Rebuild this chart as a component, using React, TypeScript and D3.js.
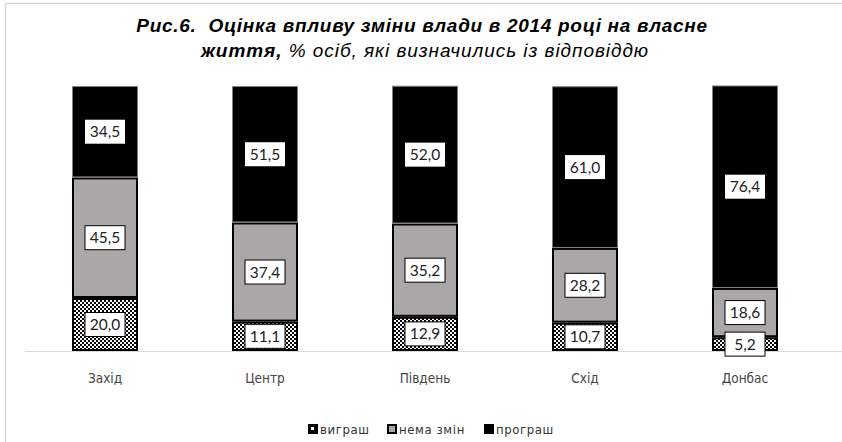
import React from "react";
import * as d3 from "d3";

const categories = ["Захід", "Центр", "Південь", "Схід", "Донбас"];
const win = [20.0, 11.1, 12.9, 10.7, 5.2];
const noChange = [45.5, 37.4, 35.2, 28.2, 18.6];
const lose = [34.5, 51.5, 52.0, 61.0, 76.4];
const seriesNames = ["виграш", "нема змін", "програш"];

const W = 842;
const H = 442;

export default function App() {
  const x = d3.scaleBand<string>().domain(categories).range([25, 825]).paddingInner(0.5875).paddingOuter(0.29375);
  const y = d3.scaleLinear().domain([0, 100]).range([351, 86]);
  const rows = categories.map((c, i) => ({ cat: c, win: win[i], noChange: noChange[i], lose: lose[i] }));
  const stack = d3.stack<any>().keys(["win", "noChange", "lose"]);
  const layers = stack(rows);
  const fmt = (v: number) => v.toFixed(1).replace(".", ",");
  const labelFont = "Lato, 'Liberation Sans', sans-serif";

  return (
    <svg width={W} height={H} style={{ display: "block", position: "absolute", left: 0, top: 0, background: "#fff" }}>
      <defs>
        <pattern id="checker" patternUnits="userSpaceOnUse" width={4} height={4}>
          <rect width={4} height={4} fill="#fff" />
          <rect width={2} height={2} fill="#000" />
          <rect x={2} y={2} width={2} height={2} fill="#000" />
        </pattern>
      </defs>
      <rect x={0} y={0} width={W} height={H} fill="#fff" />
      <line x1={5.5} y1={3.5} x2={W} y2={3.5} stroke="#d9d9d9" strokeWidth={1.5} />
      <line x1={5.5} y1={3.5} x2={5.5} y2={H} stroke="#d9d9d9" strokeWidth={1.5} />

      <text x={422} y={32} textAnchor="middle" fontFamily="Arial, 'Liberation Sans', sans-serif" fontStyle="italic" fontWeight="bold" fontSize={19} letterSpacing={0.7} fill="#000" style={{ whiteSpace: "pre" }}>
        {"Рис.6.  Оцінка впливу зміни влади в 2014 році на власне"}
      </text>
      <text x={425} y={57} textAnchor="middle" fontFamily="Arial, 'Liberation Sans', sans-serif" fontStyle="italic" fontSize={19} letterSpacing={0.95} fill="#000">
        <tspan fontWeight="bold">життя,</tspan> % осіб, які визначились із відповіддю
      </text>

      <line x1={25} x2={842} y1={351.5} y2={351.5} stroke="#d9d9d9" strokeWidth={1} />

      {layers.map((layer, li) =>
        layer.map((d, i) => {
          const cat = categories[i];
          const x0 = x(cat)!;
          const bw = x.bandwidth();
          const yTop = y(d[1]);
          const yBot = y(d[0]);
          if (li === 2) {
            return <rect key={`${li}-${i}`} x={x0 + 0.5} y={yTop + 0.5} width={bw - 1} height={yBot - yTop - 1} fill="#000" stroke="#7f7f7f" strokeWidth={1} />;
          }
          return (
            <rect key={`${li}-${i}`} x={x0 + 1} y={yTop + 1} width={bw - 2} height={yBot - yTop - 2}
              fill={li === 0 ? "url(#checker)" : "#aba7a7"} stroke="#000" strokeWidth={2} />
          );
        })
      )}

      {layers.map((layer, li) =>
        layer.map((d, i) => {
          const cat = categories[i];
          const cx = x(cat)! + x.bandwidth() / 2;
          const cy = (y(d[0]) + y(d[1])) / 2;
          const v = d[1] - d[0];
          const bw = 40;
          const bh = 24;
          return (
            <g key={`l${li}-${i}`}>
              <rect x={cx - bw / 2} y={cy - bh / 2} width={bw} height={bh} fill="#fff" stroke={li === 2 ? "none" : "#000"} strokeWidth={1} />
              <text x={cx} y={cy + 5.5} textAnchor="middle" fontFamily={labelFont} fontSize={15.5} fill="#222">
                {fmt(v)}
              </text>
            </g>
          );
        })
      )}

      {categories.map((c) => (
        <text key={c} x={x(c)! + x.bandwidth() / 2} y={383} textAnchor="middle" fontFamily="'Liberation Sans Narrow', 'DejaVu Sans Condensed', sans-serif" fontSize={13.5} fill="#444">
          {c}
        </text>
      ))}

      {seriesNames.map((s, i) => {
        const xs = [308, 387, 484][i];
        const fills = ["url(#checker)", "#aba7a7", "#000"];
        return (
          <g key={s}>
            <rect x={xs + 1} y={425} width={8} height={8} fill={i === 0 ? "#000" : fills[i]} stroke="#000" strokeWidth={2} />
            {i === 0 && <rect x={xs + 3} y={427} width={3} height={3} fill="#fff" />}
            <text x={xs + 12} y={434} fontFamily="'Liberation Sans Narrow', 'DejaVu Sans Condensed', sans-serif" fontSize={13} fill="#333" letterSpacing={0.6}>
              {s}
            </text>
          </g>
        );
      })}
    </svg>
  );
}
